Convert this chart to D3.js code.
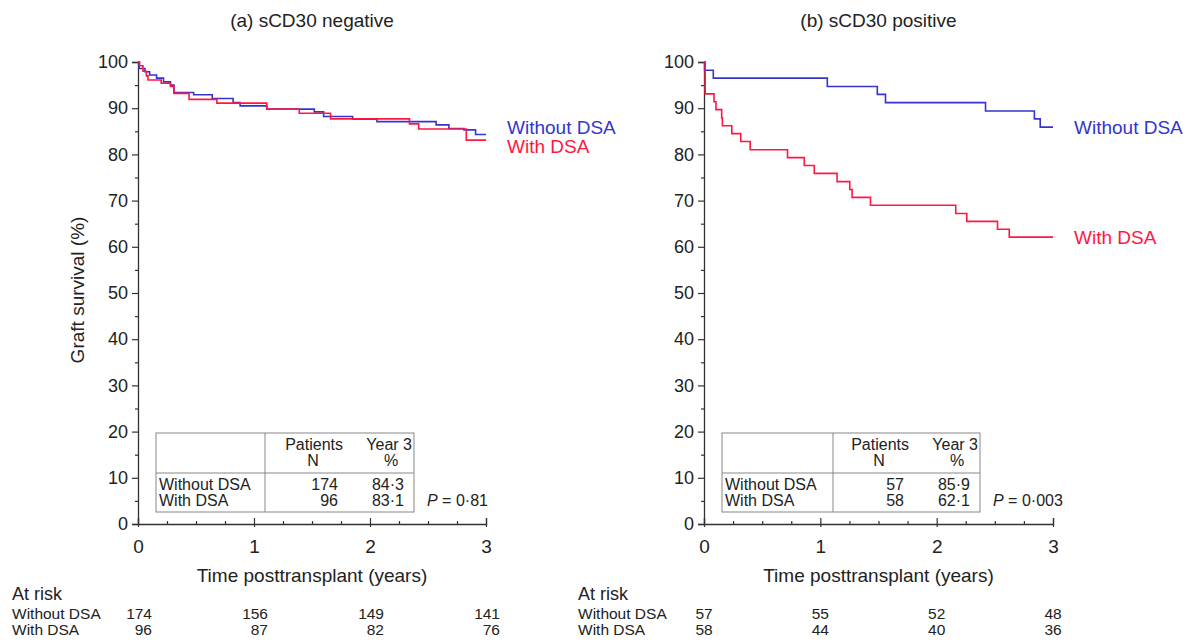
<!DOCTYPE html>
<html>
<head>
<meta charset="utf-8">
<script src="https://cdn.jsdelivr.net/npm/d3@7"></script>
<style>
  html, body { margin: 0; padding: 0; background: #fff; }
  svg { display: block; font-family: "Liberation Sans", Arial, Helvetica, sans-serif; }
</style>
</head>
<body>
<svg id="chart" width="1189" height="641"></svg>
<script>
// ---------------- data ----------------
const panelTitles = ["(a) sCD30 negative", "(b) sCD30 positive"];
const seriesNames = ["Without DSA", "With DSA"];
const timeTicks = [0, 1, 2, 3];
const survTicks = [0, 10, 20, 30, 40, 50, 60, 70, 80, 90, 100];
const survMinorTicks = [5, 15, 25, 35, 45, 55, 65, 75, 85, 95];
const timeMinorTicks = [0.25, 0.5, 0.75, 1.25, 1.5, 1.75, 2.25, 2.5, 2.75];

// Panel (a) sCD30 negative
const aWithoutTime = [0, 0.01, 0.06, 0.10, 0.16, 0.22, 0.28, 0.31, 0.48, 0.64, 0.82, 0.88, 1.11, 1.52, 1.60, 1.85, 2.06, 2.57, 2.68, 2.81, 2.91];
const aWithoutSurv = [100, 98.6, 97.9, 97.2, 96.5, 95.7, 95.0, 93.4, 92.9, 92.1, 91.2, 90.5, 89.8, 89.2, 88.2, 87.6, 87.1, 86.4, 85.6, 85.3, 84.3];
const aWithTime = [0, 0.014, 0.043, 0.072, 0.086, 0.20, 0.28, 0.31, 0.44, 0.68, 1.11, 1.39, 1.66, 2.34, 2.42, 2.83];
const aWithSurv = [100, 99.2, 98.0, 97.0, 96.1, 95.4, 94.7, 93.2, 91.9, 91.1, 89.8, 88.9, 87.7, 86.6, 85.5, 83.1];

// Panel (b) sCD30 positive
const bWithoutTime = [0, 0.005, 0.08, 1.06, 1.49, 1.56, 2.42, 2.84, 2.89];
const bWithoutSurv = [100, 98.2, 96.5, 94.7, 93.0, 91.2, 89.4, 87.7, 85.9];
const bWithTime = [0, 0.01, 0.086, 0.103, 0.152, 0.158, 0.239, 0.316, 0.397, 0.718, 0.862, 0.948, 1.144, 1.253, 1.273, 1.431, 2.164, 2.259, 2.523, 2.624];
const bWithSurv = [100, 93.1, 91.4, 89.7, 87.9, 86.2, 84.5, 82.8, 81.0, 79.3, 77.6, 75.9, 74.1, 72.4, 70.7, 69.0, 67.2, 65.5, 63.8, 62.1];

const followUpEnd = 3;

// Summary tables
const aPatients = [174, 96];
const aYear3 = ["84·3", "83·1"];
const bPatients = [57, 58];
const bYear3 = ["85·9", "62·1"];
const pValues = ["0·81", "0·003"];

// Numbers at risk (at 0, 1, 2, 3 years)
const aAtRiskWithout = [174, 156, 149, 141];
const aAtRiskWith = [96, 87, 82, 76];
const bAtRiskWithout = [57, 55, 52, 48];
const bAtRiskWith = [58, 44, 40, 36];

// ---------------- drawing ----------------
const colors = ["#3535cc", "#ff1744"];
const axisColor = "#333";
const textColor = "#222";

const panels = [
  { title: panelTitles[0], x0: 138, x1: 486,
    series: [{t: aWithoutTime, s: aWithoutSurv}, {t: aWithTime, s: aWithSurv}],
    patients: aPatients, year3: aYear3, p: pValues[0],
    atRisk: [aAtRiskWithout, aAtRiskWith], labelOffsets: [-7.5, 6], riskAnchorOffset: 14, riskAnchor: "end",
    divider: 127 },
  { title: panelTitles[1], x0: 704, x1: 1053,
    series: [{t: bWithoutTime, s: bWithoutSurv}, {t: bWithTime, s: bWithSurv}],
    patients: bPatients, year3: bYear3, p: pValues[1],
    atRisk: [bAtRiskWithout, bAtRiskWith], labelOffsets: [0, 0], riskAnchorOffset: 0, riskAnchor: "middle",
    divider: 129 }
];

const yTop = 62, yBottom = 524;
const svg = d3.select("#chart");

panels.forEach((P, pi) => {
  const x = d3.scaleLinear().domain([0, 3]).range([P.x0, P.x1]);
  const y = d3.scaleLinear().domain([0, 100]).range([yBottom, yTop]);
  const g = svg.append("g");

  // title
  g.append("text").attr("x", (P.x0 + P.x1) / 2).attr("y", 27)
    .attr("text-anchor", "middle").attr("font-size", 19).attr("fill", textColor)
    .text(P.title);

  // y axis
  const yAxis = d3.axisLeft(y).tickValues(survTicks).tickSize(6).tickPadding(4);
  const ya = g.append("g").attr("transform", `translate(${P.x0},0)`).call(yAxis);
  ya.select(".domain").attr("stroke", axisColor).attr("stroke-width", 1.3);
  ya.selectAll(".tick line").attr("stroke", axisColor).attr("stroke-width", 1.2);
  ya.selectAll(".tick text").attr("font-size", 18).attr("fill", textColor).attr("font-family", null);
  const yMinor = d3.axisLeft(y).tickValues(survMinorTicks).tickSize(3).tickFormat("");
  const ym = g.append("g").attr("transform", `translate(${P.x0},0)`).call(yMinor);
  ym.select(".domain").remove();
  ym.selectAll(".tick line").attr("stroke", axisColor).attr("stroke-width", 1.2);

  // x axis
  const xAxis = d3.axisBottom(x).tickValues(timeTicks).tickFormat(d3.format("d")).tickSize(-6).tickPadding(16);
  const xa = g.append("g").attr("transform", `translate(0,${yBottom})`).call(xAxis);
  xa.select(".domain").attr("stroke", axisColor).attr("stroke-width", 1.3);
  xa.selectAll(".tick line").attr("stroke", axisColor).attr("stroke-width", 1.2).attr("y2", -6).attr("y1", 3);
  xa.selectAll(".tick text").attr("font-size", 19).attr("fill", textColor).attr("font-family", null).attr("dy", "0.71em");
  const xMinor = d3.axisBottom(x).tickValues(timeMinorTicks).tickSize(-3).tickFormat("");
  const xm = g.append("g").attr("transform", `translate(0,${yBottom})`).call(xMinor);
  xm.select(".domain").remove();
  xm.selectAll(".tick line").attr("stroke", axisColor).attr("stroke-width", 1.2);

  // x axis title
  g.append("text").attr("x", (P.x0 + P.x1) / 2).attr("y", 582)
    .attr("text-anchor", "middle").attr("font-size", 19).attr("fill", textColor)
    .text("Time posttransplant (years)");

  // survival step curves
  const line = d3.line().x(d => x(d[0])).y(d => y(d[1])).curve(d3.curveStepAfter);
  P.series.forEach((S, si) => {
    const pts = S.t.map((t, i) => [t, S.s[i]]);
    pts.push([followUpEnd, S.s[S.s.length - 1]]);
    g.append("path").datum(pts).attr("d", line)
      .attr("fill", "none").attr("stroke", colors[si]).attr("stroke-width", 1.6);
    // series label
    g.append("text").attr("x", x(followUpEnd) + 21)
      .attr("y", y(S.s[S.s.length - 1]) + P.labelOffsets[si])
      .attr("dy", "0.35em").attr("font-size", 19).attr("fill", colors[si])
      .text(seriesNames[si]);
  });

  // summary table
  const tL = P.x0 + 18, tR = tL + 258, tT = 433, tM = 473, tB = 512;
  const tD = P.x0 + P.divider;
  const tg = g.append("g").attr("font-size", 16).attr("fill", textColor);
  tg.append("rect").attr("x", tL).attr("y", tT).attr("width", tR - tL).attr("height", tB - tT)
    .attr("fill", "#fff").attr("stroke", "#888").attr("stroke-width", 1);
  tg.append("line").attr("x1", tL).attr("x2", tR).attr("y1", tM).attr("y2", tM).attr("stroke", "#888");
  tg.append("line").attr("x1", tD).attr("x2", tD).attr("y1", tT).attr("y2", tB).attr("stroke", "#888");
  const colN = tL + 182, colY = tL + 248;
  tg.append("text").attr("x", tL + 187).attr("y", 450).attr("text-anchor", "end").text("Patients");
  tg.append("text").attr("x", tL + 157).attr("y", 466).attr("text-anchor", "middle").text("N");
  tg.append("text").attr("x", tR - 2).attr("y", 450).attr("text-anchor", "end").text("Year 3");
  tg.append("text").attr("x", tL + 235).attr("y", 466).attr("text-anchor", "middle").text("%");
  seriesNames.forEach((nm, i) => {
    const yy = 490 + i * 16;
    tg.append("text").attr("x", tL + 3).attr("y", yy).text(nm);
    tg.append("text").attr("x", colN).attr("y", yy).attr("text-anchor", "end").text(P.patients[i]);
    tg.append("text").attr("x", colY).attr("y", yy).attr("text-anchor", "end").text(P.year3[i]);
  });
  const pt = tg.append("text").attr("x", tR + 13).attr("y", 506);
  pt.append("tspan").attr("font-style", "italic").text("P");
  pt.append("tspan").text(" = " + P.p);

  // at risk
  const rg = g.append("g").attr("fill", textColor);
  const leftX = pi === 0 ? 12 : 578;
  rg.append("text").attr("x", leftX).attr("y", 600).attr("font-size", 18).text("At risk");
  seriesNames.forEach((nm, i) => {
    const yy = 619 + i * 16;
    rg.append("text").attr("x", leftX).attr("y", yy).attr("font-size", 15.5).text(nm);
    P.atRisk[i].forEach((v, k) => {
      rg.append("text").attr("x", x(timeTicks[k]) + P.riskAnchorOffset).attr("y", yy)
        .attr("font-size", 15.5).attr("text-anchor", P.riskAnchor).text(v);
    });
  });
});

// y axis title (shared, left panel)
svg.append("text").attr("transform", "translate(84,290) rotate(-90)")
  .attr("text-anchor", "middle").attr("font-size", 19).attr("fill", textColor)
  .text("Graft survival (%)");
</script>
</body>
</html>
